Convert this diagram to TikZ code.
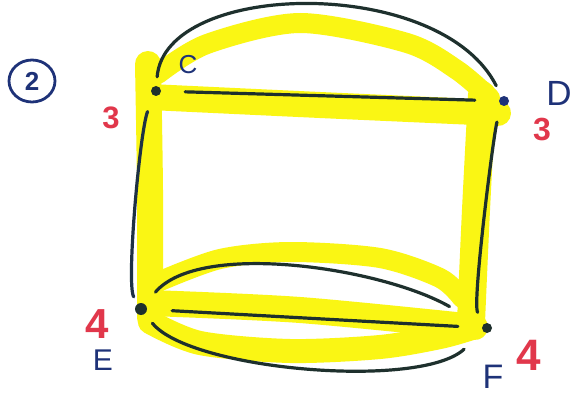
\documentclass[tikz,border=0pt]{standalone}
\usepackage{fontspec}
\setmainfont{Liberation Sans}
\usetikzlibrary{shapes.geometric}
\definecolor{hl}{RGB}{250,246,20}
\definecolor{ink}{RGB}{30,48,45}
\definecolor{navy}{RGB}{30,50,120}
\definecolor{redink}{RGB}{225,55,75}
\begin{document}
\begin{tikzpicture}[x=1pt,y=-1pt,
  hlstroke/.style={draw=hl, line width=24pt, line cap=round, line join=round},
  edge/.style={draw=ink, line width=3.2pt, line cap=round},
  vtx/.style={circle, fill=ink, inner sep=0pt, minimum size=10pt},
  namelbl/.style={text=navy, inner sep=0pt},
  deglbl/.style={text=redink, inner sep=0pt}]
\useasboundingbox[fill=white] (0,0) rectangle (574,396);
% highlighter strokes
\draw[hlstroke, line width=20pt] plot[smooth] coordinates {(158,74) (207,44) (300,23) (407,43) (457,70) (490,98)};
\draw[hlstroke, line width=26pt] plot[smooth] coordinates {(150,97) (320,105) (498,113)};
\draw[hlstroke, line width=26pt] plot[smooth] coordinates {(148,64) (150,190) (150,318)};
\draw[hlstroke, line width=28pt] plot[smooth] coordinates {(482,95) (476,210) (471,322)};
\draw[hlstroke, line width=20pt] plot[smooth] coordinates {(158,282) (220,259) (290,252) (380,258) (440,278) (462,298)};
\draw[hlstroke, line width=26pt] plot[smooth] coordinates {(150,303) (300,310) (475,327)};
\draw[hlstroke, line width=24pt] plot[smooth] coordinates {(150,322) (200,343) (290,351) (380,347) (440,337) (472,328)};
% vertices
\node[vtx] (C) at (156,91) {};
\node[vtx, fill=navy] (D) at (504,101) {};
\node[vtx, minimum size=12pt] (E) at (141,309) {};
\node[vtx] (F) at (487,328) {};
% edges
\draw[edge, shorten <=24pt, shorten >=24pt] (C) -- (D);
\draw[edge, shorten <=9pt, shorten >=12pt] (C) .. controls +(9,-111) and +(-64,-126) .. (D);
\draw[edge, draw=ink!70!navy, shorten <=17pt, shorten >=8pt] (C) .. controls +(-16,39) and +(-15,-25) .. (E);
\draw[edge, shorten <=17pt, shorten >=13pt] (D) .. controls +(-10,30) and +(-15,-25) .. (F);
\draw[edge, shorten <=25pt, shorten >=24pt] (E) -- (F);
\draw[edge, shorten <=16pt, shorten >=38pt] (E) .. controls (200,240) and (382,268) .. (F);
\draw[edge, shorten <=12pt, shorten >=26pt] (E) .. controls (190,370) and (420,390) .. (F);
% labels
\node[ellipse, draw=navy, line width=2.8pt, minimum width=46pt, minimum height=42pt, inner sep=0pt, text=navy, font=\bfseries\fontsize{26}{26}\selectfont] (two) at (32,81) {2};
\node[namelbl, font=\fontsize{26}{26}\selectfont] (lC) at (188,65) {C};
\node[namelbl, font=\fontsize{35}{35}\selectfont] (lD) at (559,93) {D};
\node[namelbl, font=\fontsize{30}{30}\selectfont] (lE) at (103,360) {E};
\node[namelbl, font=\fontsize{34}{34}\selectfont] (lF) at (493,377) {F};
\node[deglbl, font=\bfseries\fontsize{31}{31}\selectfont] (dC) at (111,118) {3};
\node[deglbl, font=\bfseries\fontsize{32}{32}\selectfont] (dD) at (542,130) {3};
\node[deglbl, font=\bfseries\fontsize{42}{42}\selectfont] (dE) at (97,324) {4};
\node[deglbl, font=\bfseries\fontsize{44}{44}\selectfont] (dF) at (529,355) {4};
\end{tikzpicture}
\end{document}
